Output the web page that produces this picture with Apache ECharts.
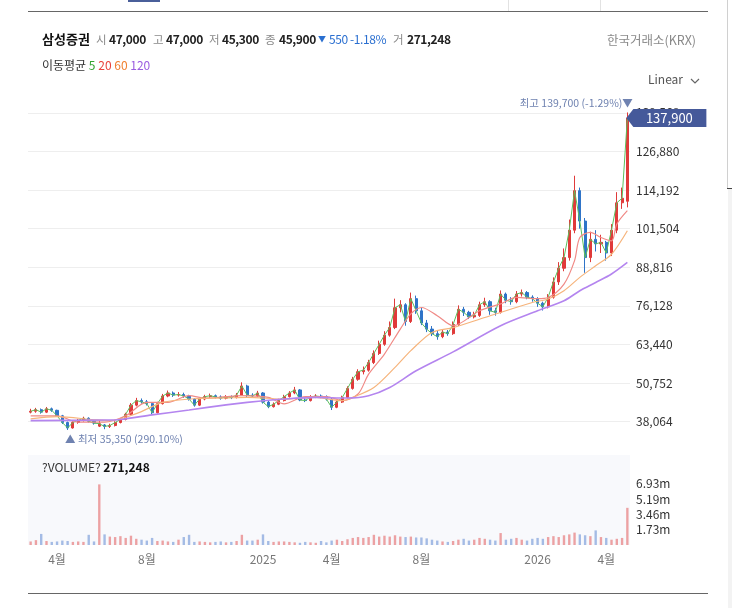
<!DOCTYPE html>
<html>
<head>
    <meta charset="utf-8">
    <title>삼성증권</title>
    <script src="https://cdn.jsdelivr.net/npm/echarts@6/dist/echarts.min.js"></script>
    <style>
        html, body { margin: 0; padding: 0; background: #fff; }
        body { width: 732px; height: 608px; position: relative; overflow: hidden;
               font-family: "Noto Sans CJK KR", "Noto Sans", sans-serif; }
        #chart1 { position: absolute; left: 0; top: 0; width: 732px; height: 608px; }
        .t { position: absolute; white-space: nowrap; font-size: 12px; line-height: 16px; color: #222; }
        .lb { color: #8a8a8a; font-size: 11.5px; }
        .v { font-weight: bold; letter-spacing: -0.4px; }
        .ln { position: absolute; }
    </style>
</head>
<body>
    <div id="chart1"></div>

    <!-- 상단 탭 라인 -->
    <div class="ln" style="left:128px;top:0;width:32px;height:2px;background:#4a5f9a;"></div>
    <div class="ln" style="left:508px;top:0;width:1px;height:11px;background:#e2e2e2;"></div>
    <div class="ln" style="left:600px;top:0;width:1px;height:11px;background:#e2e2e2;"></div>
    <div class="ln" style="left:28px;top:11px;width:680px;height:1px;background:#666;"></div>
    <div class="ln" style="left:727px;top:0;width:1px;height:188px;background:#d0d0d0;"></div>
    <div class="ln" style="left:727px;top:188px;width:5px;height:1px;background:#444;"></div>
    <div class="ln" style="left:728px;top:189px;width:4px;height:419px;background:#f3f3f3;"></div>
    <div class="ln" style="left:28px;top:593px;width:680px;height:1px;background:#666;"></div>

    <!-- 시세 헤더 -->
    <div class="t" style="left:42px;top:31px;font-size:13px;font-weight:bold;color:#111;">삼성증권</div>
    <div class="t lb" style="left:96px;top:31px;">시</div>
    <div class="t v" style="left:109px;top:31px;">47,000</div>
    <div class="t lb" style="left:153px;top:31px;">고</div>
    <div class="t v" style="left:166px;top:31px;">47,000</div>
    <div class="t lb" style="left:209px;top:31px;">저</div>
    <div class="t v" style="left:222px;top:31px;">45,300</div>
    <div class="t lb" style="left:265px;top:31px;">종</div>
    <div class="t v" style="left:279px;top:31px;">45,900</div>
    <div class="t" style="left:318px;top:31px;font-size:8px;color:#2a6fd0;">▼</div>
    <div class="t v" style="left:329px;top:31px;color:#2a6fd0;font-weight:normal;">550 -1.18%</div>
    <div class="t lb" style="left:393px;top:31px;">거</div>
    <div class="t v" style="left:407px;top:31px;">271,248</div>
    <div class="t" style="left:607px;top:32px;color:#8a8a8a;font-size:12.5px;">한국거래소(KRX)</div>

    <!-- 이동평균 범례 -->
    <div class="t" style="left:42px;top:57px;color:#333;">이동평균 <span style="color:#33a532">5</span> <span style="color:#e8423c">20</span> <span style="color:#f08030">60</span> <span style="color:#9a5ce0">120</span></div>
    <div class="t" style="left:648px;top:71px;color:#555;">Linear
        <svg width="10" height="8" style="margin-left:4px;vertical-align:middle;"><polyline points="1,2 5,6 9,2" fill="none" stroke="#666" stroke-width="1.2"/></svg>
    </div>

    <!-- 거래량 제목 -->
    <div class="t" style="left:42px;top:459px;color:#333;">?VOLUME? <b style="color:#111;">271,248</b></div>
</body>

<script>
    // 주봉 시작일 (2024-02-26 월요일부터 114주)
    var startDate = Date.UTC(2024, 1, 26);
    var weeks = [];
    for (var i = 0; i < 114; i++) {
        var d = new Date(startDate + i * 7 * 86400000);
        weeks.push(d.toISOString().slice(0, 10));
    }

    // 시가 / 종가 / 저가 / 고가
    var openPrice = [
        41200, 41500, 42000, 41200, 42300, 41800, 40000, 37800, 36000, 37800,
        38500, 39200, 38200, 36600, 37000, 36500, 36800, 37800, 38800, 40500,
        43500, 45000, 44600, 44000, 41000, 44000, 46500, 47500, 46800, 47000,
        46500, 45500, 43500, 45500, 46300, 46600, 46200, 45800, 46200, 46000,
        46800, 49800, 46800, 46500, 47500, 44500, 43000, 43800, 45000, 46300,
        47500, 48500, 45200, 45000, 46200, 46500, 46300, 45500, 42800, 44500,
        46000, 49000, 52000, 54500, 55000, 57500, 60500, 63500, 66500, 69000,
        75500, 76500, 71000, 78500, 74500, 70500, 68500, 67000, 66000, 67500,
        67000, 70000, 75000, 74000, 72500, 73000, 76500, 77500, 74500, 74000,
        80000, 78000, 77500, 80000, 80500, 79000, 78500, 77000, 75800, 79000,
        84000, 88500, 92000, 101000, 114000, 104000, 92000, 98000, 96500, 97000,
        93500, 101000, 110000, 110500
    ];
    var closePrice = [
        41500, 42000, 41200, 42300, 41800, 40000, 37800, 36000, 37800, 38500,
        39200, 38200, 37600, 37400, 36500, 36800, 37800, 38800, 40500, 43500,
        45000, 44600, 44000, 41000, 44000, 46500, 47500, 46800, 47000, 46500,
        45500, 43500, 45500, 46300, 46600, 46200, 45800, 46200, 46000, 46800,
        49800, 46800, 46500, 47500, 44500, 43000, 43800, 45000, 46300, 47500,
        48500, 45200, 45000, 46200, 46500, 46300, 45500, 42800, 44500, 46000,
        49000, 52000, 54500, 55000, 57500, 60500, 63500, 66500, 69000, 75500,
        76500, 71000, 78500, 74500, 70500, 68500, 67000, 66000, 67500, 67000,
        70000, 75000, 74000, 72500, 73000, 76500, 77500, 74500, 74000, 80000,
        78000, 77500, 80000, 80500, 79000, 78500, 77000, 75800, 79000, 84000,
        88500, 92000, 101000, 114000, 104000, 92000, 98000, 96500, 97000, 93500,
        101000, 110000, 111500, 137900
    ];
    var lowPrice = [
        40800, 41000, 40700, 40900, 41300, 39600, 37300, 35350, 35800, 37400,
        38100, 37800, 37100, 36300, 35600, 36000, 36500, 37500, 38500, 40200,
        43100, 44000, 43400, 40500, 40800, 43700, 46100, 46200, 46300, 45900,
        45000, 43000, 43200, 45100, 45900, 45700, 45300, 45400, 45500, 45700,
        46500, 46200, 45900, 46100, 44000, 42500, 42700, 43500, 44700, 46000,
        47100, 44800, 44500, 44700, 45800, 45800, 45000, 41900, 42500, 44200,
        45700, 48600, 51500, 53600, 54500, 57000, 60000, 63000, 66000, 68500,
        74000, 69600, 70500, 73500, 69800, 67500, 66200, 65000, 65500, 66300,
        66600, 69500, 72800, 71800, 72000, 72500, 75800, 73200, 72900, 73600,
        77000, 76500, 77000, 79200, 78300, 77500, 75800, 74600, 75300, 78500,
        83000, 87500, 91000, 100000, 101500, 87000, 90500, 94000, 93500, 91000,
        92500, 100000, 108000, 108500
    ];
    var highPrice = [
        42300, 42600, 42400, 42900, 42700, 42000, 40300, 38100, 38200, 39000,
        39700, 39500, 38500, 38400, 37300, 37400, 38200, 39300, 41000, 44200,
        45900, 45700, 45200, 44300, 44600, 47200, 48300, 48000, 47800, 47600,
        46900, 45800, 46000, 46900, 47300, 47000, 46700, 46800, 46700, 47500,
        51000, 50200, 47400, 48200, 47800, 44900, 44400, 45600, 46900, 48100,
        49500, 48800, 45900, 46800, 47100, 47000, 46700, 45800, 45000, 46600,
        49700, 52800, 55300, 56200, 58400, 61500, 64700, 67800, 71000, 78500,
        78000, 77000, 80500, 79500, 75500, 71500, 69500, 68000, 68500, 68200,
        71000, 76300, 75800, 74500, 74200, 77500, 78800, 78000, 75500, 81200,
        80500, 79000, 81000, 81500, 81000, 79600, 79000, 77500, 80000, 85500,
        90500, 95000, 104500, 118900, 115000, 105000, 100500, 101000, 99500, 97500,
        103000, 113500, 115000, 139700
    ];

    // 이동평균선 (그림에서 읽은 [주 인덱스, 값])
    var ma20 = [
        [0, 40000], [5, 40000], [9, 37900], [14, 37900], [18, 40000], [22, 44400],
        [26, 44400], [30, 46600], [33, 45800], [37, 46300], [40, 46600], [45, 46050],
        [48, 43900], [52, 46300], [56, 46300], [59, 45000], [62, 47150], [64, 53700],
        [67, 60300], [70, 68500], [72, 73500], [74, 75600], [77, 72900], [80, 69600],
        [85, 74500], [89, 76800], [92, 78900], [96, 78500], [98, 78900], [101, 83300],
        [103, 91000], [104, 98600], [106, 100300], [108, 98600], [110, 97500],
        [111, 103000], [113, 107400]
    ];
    var ma60 = [
        [0, 39000], [5, 39700], [12, 38700], [15, 38400], [20, 40700], [25, 44400],
        [31, 45600], [37, 45850], [41, 46050], [48, 45500], [54, 46050], [59, 44950],
        [61, 46050], [65, 49300], [69, 55900], [72, 61400], [76, 67400], [80, 69000],
        [86, 72300], [95, 77250], [98, 78400], [101, 81100], [104, 85500], [107, 89300],
        [110, 93100], [113, 100800]
    ];
    var ma120 = [
        [0, 38400], [14, 38600], [17, 38800], [23, 40300], [30, 41900], [37, 43600],
        [41, 44400], [48, 45500], [54, 46050], [60, 45850], [64, 46600], [68, 49300],
        [73, 54800], [80, 61000], [89, 69600], [96, 74500], [101, 77800], [104, 81100],
        [107, 83800], [110, 86600], [113, 90400]
    ];

    // 거래량
    var volume = [
        400000, 550000, 1250000, 450000, 350000, 400000, 500000, 450000, 350000, 400000,
        350000, 1150000, 400000, 6850000, 1200000, 950000, 900000, 1000000, 800000, 1050000,
        700000, 600000, 500000, 800000, 450000, 500000, 400000, 350000, 600000, 900000,
        1150000, 350000, 400000, 350000, 300000, 350000, 400000, 300000, 350000, 450000,
        1150000, 500000, 500000, 600000, 1200000, 450000, 350000, 400000, 400000, 350000,
        300000, 250000, 350000, 300000, 250000, 450000, 300000, 500000, 600000, 450000,
        650000, 800000, 900000, 800000, 900000, 1150000, 950000, 1050000, 950000, 1100000,
        950000, 900000, 950000, 850000, 850000, 750000, 600000, 500000, 400000, 350000,
        450000, 600000, 700000, 500000, 600000, 800000, 700000, 600000, 500000, 1350000,
        600000, 700000, 800000, 600000, 500000, 700000, 800000, 700000, 900000, 1000000,
        900000, 1100000, 1200000, 1400000, 1200000, 1100000, 1000000, 1650000, 900000, 800000,
        600000, 700000, 800000, 4200000
    ];

    // x축 라벨: 1월은 연도, 4월/8월은 "N월"
    var labelMonths = [1, 4, 8];
    function monthStartIn(idx) {
        var s = new Date(weeks[idx] + 'T00:00:00Z');
        for (var k = 0; k < 7; k++) {
            var dd = new Date(s.getTime() + k * 86400000);
            if (dd.getUTCDate() === 1) return dd;
        }
        return null;
    }

    var candleData = [];
    var volData = [];
    for (var j = 0; j < weeks.length; j++) {
        candleData.push([openPrice[j], closePrice[j], lowPrice[j], highPrice[j]]);
        var up = closePrice[j] >= openPrice[j];
        volData.push({
            value: volume[j],
            itemStyle: { color: up ? 'rgba(226,90,90,0.55)' : 'rgba(80,125,205,0.5)' }
        });
    }

    var myChart1 = echarts.init(document.getElementById('chart1'));

    myChart1.setOption({
        animation: false,
        textStyle: { fontFamily: '"Noto Sans CJK KR", "Noto Sans", sans-serif' },
        grid: [
            { left: 28, right: 102, top: 96.3, height: 364 },
            { left: 28, right: 102, top: 455, height: 90, show: true, backgroundColor: '#f8f9fc', borderWidth: 0 }
        ],
        xAxis: [
            {
                type: 'category', data: weeks, gridIndex: 0,
                axisLine: { show: false }, axisTick: { show: false },
                axisLabel: { show: false }, splitLine: { show: false }
            },
            {
                type: 'category', data: weeks, gridIndex: 1,
                axisLine: { show: false }, axisTick: { show: false }, splitLine: { show: false },
                axisLabel: {
                    color: '#777', fontSize: 12, margin: 8,
                    interval: function (idx) {
                        var m = monthStartIn(idx);
                        return !!m && labelMonths.indexOf(m.getUTCMonth() + 1) >= 0;
                    },
                    formatter: function (val, idx) {
                        var m = monthStartIn(idx);
                        if (!m) return '';
                        var mo = m.getUTCMonth() + 1;
                        return mo === 1 ? String(m.getUTCFullYear()) : mo + '월';
                    }
                }
            }
        ],
        yAxis: [
            {
                type: 'value', gridIndex: 0, position: 'right',
                min: 25376, max: 145000, interval: 12688,
                axisLine: { show: false }, axisTick: { show: false },
                splitLine: { show: true, showMinLine: false, showMaxLine: false, lineStyle: { color: '#eeeeee' } },
                axisLabel: {
                    showMinLabel: false, showMaxLabel: false,
                    color: '#333', fontSize: 12, margin: 6,
                    formatter: function (v) { return v.toLocaleString('en-US'); }
                }
            },
            {
                type: 'value', gridIndex: 1, position: 'right',
                min: 0, max: 10170000, interval: 1732500,
                axisLine: { show: false }, axisTick: { show: false }, splitLine: { show: false },
                axisLabel: {
                    color: '#333', fontSize: 12, margin: 6,
                    formatter: function (v) {
                        if (v <= 0 || v > 7000000) return '';
                        return (Math.floor(v / 10000) / 100).toFixed(2) + 'm';
                    }
                }
            }
        ],
        series: [
            {
                name: '삼성증권', type: 'candlestick',
                xAxisIndex: 0, yAxisIndex: 0,
                data: candleData, barWidth: '50%',
                itemStyle: {
                    color: '#e03a3a', color0: '#2f74c8',
                    borderColor: '#e03a3a', borderColor0: '#2f74c8', borderWidth: 1
                },
                markPoint: {
                    z: 10,
                    data: [
                        {
                            coord: [113, 139700], symbol: 'circle', symbolSize: 1,
                            itemStyle: { color: 'rgba(0,0,0,0)' },
                            label: {
                                show: true, position: 'left', distance: 0, offset: [6, -9],
                                fontSize: 10.5, color: '#6f82b0',
                                formatter: '최고 139,700 (-1.29%)▼'
                            }
                        },
                        {
                            coord: [7, 35350], symbol: 'circle', symbolSize: 1,
                            itemStyle: { color: 'rgba(0,0,0,0)' },
                            label: {
                                show: true, position: 'right', distance: 0, offset: [-3, 9],
                                fontSize: 10.5, color: '#6f82b0',
                                formatter: '▲ 최저 35,350 (290.10%)'
                            }
                        },
                        {
                            coord: [113, 137900],
                            symbol: 'path://M0,9L7,0L80,0L80,18L7,18Z',
                            symbolSize: [80, 18], symbolOffset: [39, 0], symbolKeepAspect: false,
                            itemStyle: { color: '#45599a' },
                            label: {
                                show: true, position: 'inside', color: '#fff', fontSize: 13,
                                offset: [3, 0], formatter: '137,900'
                            }
                        }
                    ]
                }
            },
            {
                name: 'MA5', type: 'line', xAxisIndex: 0, yAxisIndex: 0,
                data: closePrice, symbol: 'none',
                lineStyle: { color: '#5cbf5c', width: 1 }
            },
            {
                name: 'MA20', type: 'line', xAxisIndex: 0, yAxisIndex: 0,
                data: ma20, symbol: 'none', smooth: 0.3,
                lineStyle: { color: '#f08a86', width: 1.2 }
            },
            {
                name: 'MA60', type: 'line', xAxisIndex: 0, yAxisIndex: 0,
                data: ma60, symbol: 'none', smooth: 0.3,
                lineStyle: { color: '#f6b47c', width: 1.2 }
            },
            {
                name: 'MA120', type: 'line', xAxisIndex: 0, yAxisIndex: 0,
                data: ma120, symbol: 'none', smooth: 0.3,
                lineStyle: { color: '#b485ef', width: 1.6 }
            },
            {
                name: 'VOLUME', type: 'bar', xAxisIndex: 1, yAxisIndex: 1,
                data: volData, barWidth: '45%'
            }
        ]
    });
</script>
</html>
